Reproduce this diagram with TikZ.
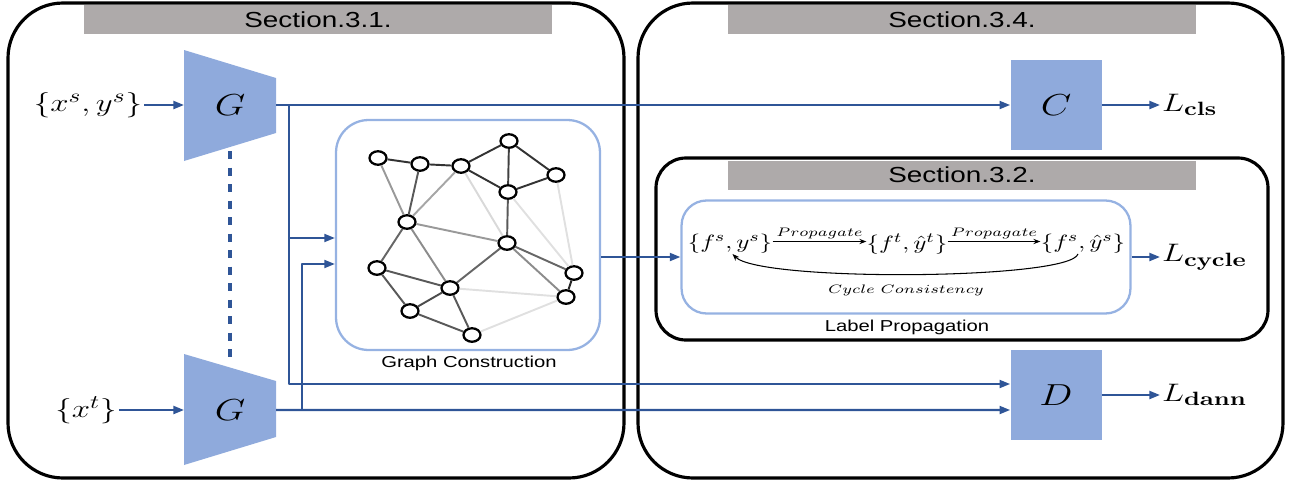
\documentclass[tikz,border=0pt]{standalone}
\usepackage{amsmath,amssymb}
\usepackage{graphicx}
\usepackage[no-math]{fontspec}
\setmainfont[FakeStretch=1.28]{Liberation Sans}
\usetikzlibrary{arrows.meta,shapes.geometric,calc}
\definecolor{netBlue}{RGB}{143,170,220}
\definecolor{lineBlue}{RGB}{47,85,151}
\definecolor{barGray}{RGB}{174,170,170}
\definecolor{frameBlue}{RGB}{150,178,226}
\newcommand{\wmath}[1]{\scalebox{1.3}[1]{$#1$}}

\begin{document}
\begin{tikzpicture}[x=0.02cm, y=-0.02cm, line join=round,
  sect/.style={draw=black, line width=1.8pt},
  bar/.style={fill=barGray, inner sep=0pt, minimum width=9.36cm, minimum height=0.58cm, font=\fontsize{12.4}{15}\selectfont},
  block/.style={fill=netBlue, inner sep=0pt, minimum width=1.82cm, minimum height=1.82cm, font=\fontsize{17}{20}\selectfont},
  frame/.style={draw=frameBlue, line width=1.3pt, inner sep=0pt},
  flow/.style={lineBlue, line width=1.2pt, -{Triangle[length=6pt, width=4.5pt]}},
  gnode/.style={ellipse, draw, line width=1.3pt, fill=white, minimum width=0.34cm, minimum height=0.27cm, inner sep=0pt},
  caption/.style={font=\fontsize{9}{11}\selectfont, inner sep=0pt},
  big/.style={font=\fontsize{15}{18}\selectfont, inner sep=1pt},
  eqn/.style={font=\fontsize{11}{13}\selectfont, inner sep=0pt},
  prop/.style={above=1pt, inner sep=0pt, font=\fontsize{6.6}{8}\selectfont}]
\useasboundingbox (0,0) rectangle (1289,484);
\draw[sect, rounded corners=1.1cm] (8,3) rectangle (624,478);
\draw[sect, rounded corners=1.1cm] (638,3) rectangle (1283,478);
\draw[sect, rounded corners=0.6cm] (656,158) rectangle (1268,340);
\node[bar] (sec31) at (318,19.5) {Section.3.1.};
\node[bar] (sec34) at (962,19.5) {Section.3.4.};
\node[bar] (sec32) at (962,175) {Section.3.2.};
\fill[netBlue] (184,50) -- (276,78) -- (276,133) -- (184,161) -- cycle;
\fill[netBlue] (184,354) -- (276,381) -- (276,437) -- (184,465) -- cycle;
\node[font=\fontsize{17}{20}\selectfont] (Gs) at (230,105) {\wmath{G}};
\node[font=\fontsize{17}{20}\selectfont] (Gt) at (230,410) {\wmath{G}};
\coordinate (Gs-in) at (184,105);
\coordinate (Gs-out) at (276,105);
\coordinate (Gs-bot) at (230,151);
\coordinate (Gt-in) at (184,410);
\coordinate (Gt-out) at (276,410);
\coordinate (Gt-top) at (230,363);
\coordinate (tapS) at (289,105);
\coordinate (tapT) at (302,410);
\node[big] (xs) at (88,105) {\wmath{\{x^s,y^s\}}};
\node[big] (xt) at (86,410) {\wmath{\{x^t\}}};
\node[block] (C) at (1056,105) {\wmath{C}};
\node[block] (D) at (1056,395) {\wmath{D}};
\node[big, anchor=west] (Lcls) at (1160,105) {\wmath{L_{\mathbf{cls}}}};
\node[big, anchor=west] (Lcy) at (1160,257) {\wmath{L_{\mathbf{cycle}}}};
\node[big, anchor=west] (Ldann) at (1160,395) {\wmath{L_{\mathbf{dann}}}};
\node[frame, rounded corners=0.65cm, minimum width=5.28cm, minimum height=4.6cm] (graph) at (468,235) {};
\node[caption] (gcap) at (469,363) {Graph Construction};
\node[frame, rounded corners=0.5cm, minimum width=8.98cm, minimum height=2.26cm] (lp) at (906,257) {};
\node[caption] (lpcap) at (907,327) {Label Propagation};
\node[gnode] (n1) at (378,158) {};
\node[gnode] (n2) at (420,164) {};
\node[gnode] (n3) at (461,166) {};
\node[gnode] (n4) at (509,141) {};
\node[gnode] (n5) at (556,175) {};
\node[gnode] (n6) at (508,192) {};
\node[gnode] (n7) at (407,222) {};
\node[gnode] (n8) at (507,243) {};
\node[gnode] (n9) at (377,268) {};
\node[gnode] (n10) at (450,288) {};
\node[gnode] (n11) at (574,273) {};
\node[gnode] (n12) at (566,297) {};
\node[gnode] (n13) at (410,311) {};
\node[gnode] (n14) at (472,335) {};
\foreach \a/\b/\g in {n1/n2/80, n2/n3/80, n3/n4/80, n4/n6/75, n4/n5/80, n3/n6/80, n5/n6/80,
  n1/n7/40, n2/n7/65, n3/n7/35, n3/n8/15, n6/n8/65, n6/n11/12, n5/n11/12, n7/n8/40,
  n7/n9/60, n7/n10/45, n8/n10/60, n8/n11/60, n8/n12/45, n9/n10/65, n9/n13/65,
  n10/n13/70, n10/n14/65, n13/n14/65, n10/n12/12, n14/n12/12, n11/n12/85}
  \draw[black!\g, line width=1.1pt] (\a) -- (\b);
\node[eqn] (fs1) at (730,244) {\wmath{\{f^s,y^s\}}};
\node[eqn] (ft) at (907,244) {\wmath{\{f^t,\hat{y}^t\}}};
\node[eqn] (fs2) at (1083,244) {\wmath{\{f^s,\hat{y}^s\}}};
\draw[-{Stealth[length=4pt]}, line width=0.6pt] ([yshift=0.05cm]fs1.east) -- node[prop] {\wmath{Propagate}} ([yshift=0.05cm]ft.west);
\draw[-{Stealth[length=4pt]}, line width=0.6pt] ([yshift=0.05cm]ft.east) -- node[prop] {\wmath{Propagate}} ([yshift=0.05cm]fs2.west);
\draw[-{Stealth[length=4pt]}, line width=0.6pt] ([xshift=-0.1cm]fs2.south) .. controls (1070,280) and (760,282) .. ([xshift=0.05cm]fs1.south);
\node[font=\fontsize{7.2}{9}\selectfont] (cyc) at (906,290) {\wmath{Cycle\ Consistency}};
\draw[flow] (xs) -- (Gs-in);
\draw[flow] (xt) -- (Gt-in);
\draw[lineBlue, line width=1.9pt, dash pattern=on 4.7pt off 4.7pt] (Gs-bot) -- (Gt-top);
\draw[flow] (Gs-out) -- (C);
\draw[flow] (tapS) |- ([yshift=-0.06cm]graph.west);
\draw[flow] (tapS) |- ([yshift=0.22cm]D.west);
\draw[flow] (Gt-out) -- ([yshift=-0.3cm]D.west);
\draw[flow] (tapT) |- ([yshift=-0.58cm]graph.west);
\draw[flow] (graph.east |- lp.west) -- (lp.west);
\draw[flow] (lp.east) -- (Lcy.west);
\draw[flow] (C) -- (Lcls);
\draw[flow] (D) -- (Ldann);
\end{tikzpicture}
\end{document}
